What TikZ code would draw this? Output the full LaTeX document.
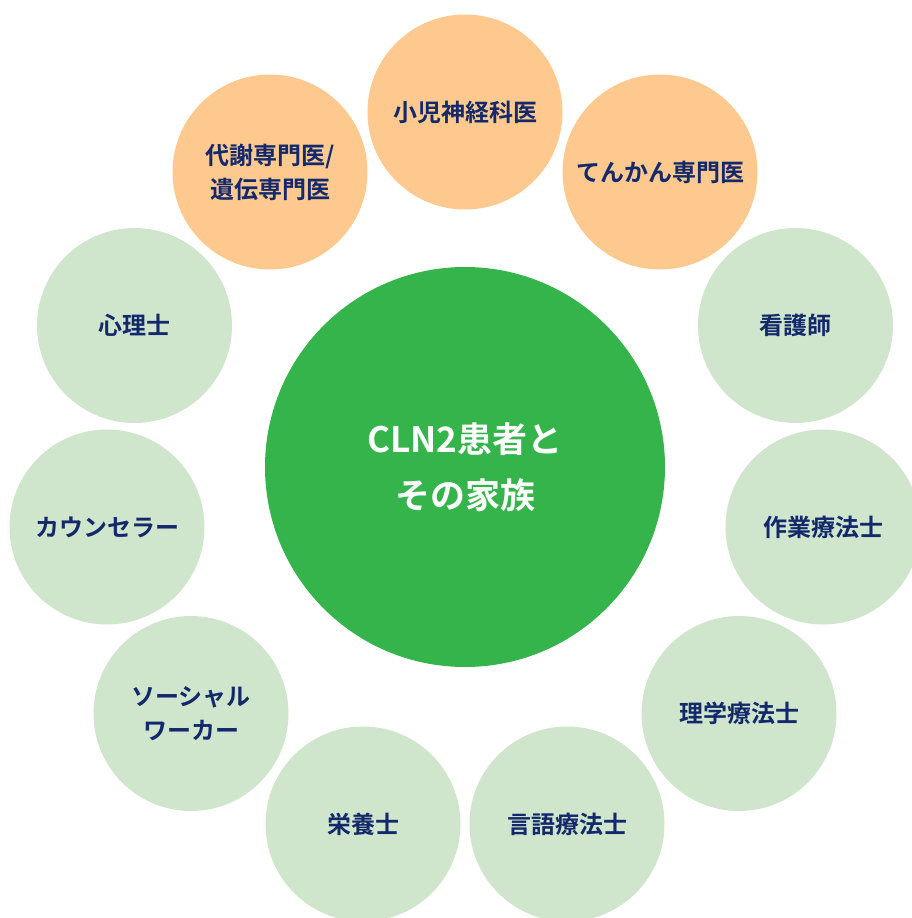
\documentclass[tikz,border=0pt]{standalone}
\usepackage{fontspec}
\setmainfont{Noto Sans CJK JP}[BoldFont={Noto Sans CJK JP Bold}]
\definecolor{orangefill}{HTML}{FDC98F}
\definecolor{greenfill}{HTML}{CFE6CC}
\definecolor{centerfill}{HTML}{34B44A}
\definecolor{navytext}{HTML}{13296B}
\tikzset{
  outer/.style={circle, minimum size=195pt, inner sep=0pt, text=navytext,
    font=\bfseries\fontsize{24}{34}\selectfont, align=center},
  doc/.style={outer, fill=orangefill},
  staff/.style={outer, fill=greenfill},
  core/.style={circle, minimum size=400pt, inner sep=0pt, fill=centerfill, text=white,
    font=\bfseries\fontsize{35}{56}\selectfont, align=center}
}
\begin{document}
\begin{tikzpicture}[x=1pt, y=-1pt]
\useasboundingbox (0,0) rectangle (912,918);
\clip (0,0) rectangle (912,918);
\node[core] (center) at (465,467) {CLN2患者と\\その家族};
\node[doc] (shoni) at (465,112) {小児神経科医};
\node[doc] (tenkan) at (660,172) {てんかん専門医};
\node[doc] (taisha) at (270,172) {代謝専門医/\\遺伝専門医};
\node[staff] (kango) at (795.5,325.5) {看護師};
\node[staff] (shinri) at (134.5,325.5) {心理士};
\node[staff] (sagyo) at (823,527) {作業療法士};
\node[staff] (counsel) at (107,527) {カウンセラー};
\node[staff] (rigaku) at (739,713.5) {理学療法士};
\node[staff] (social) at (191,713.5) {ソーシャル\\ワーカー};
\node[staff] (gengo) at (567,824) {言語療法士};
\node[staff] (eiyo) at (363,824) {栄養士};
\end{tikzpicture}
\end{document}
